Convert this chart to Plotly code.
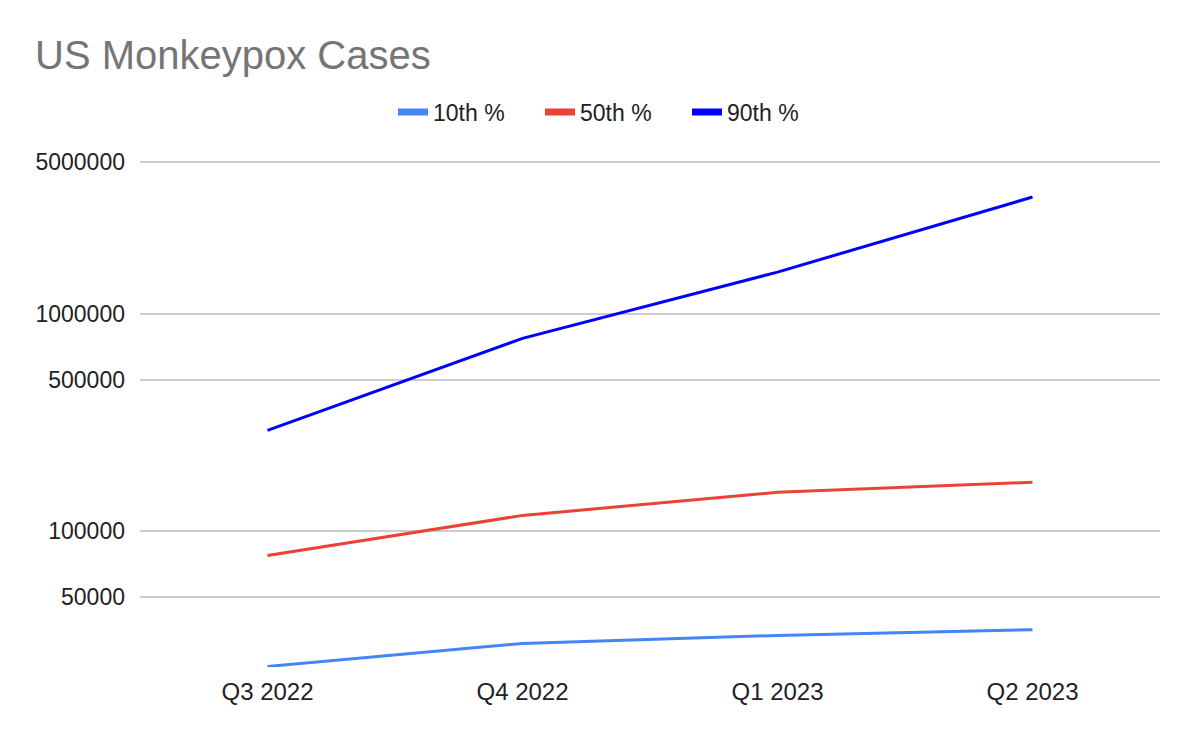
import plotly.graph_objects as go

quarters = ["Q3 2022", "Q4 2022", "Q1 2023", "Q2 2023"]
p10 = [23900, 30500, 33200, 35300]
p50 = [77400, 118500, 151300, 168300]
p90 = [292000, 774000, 1562000, 3460000]

y_ticks = [50000, 100000, 500000, 1000000, 5000000]
y_ticktext = ["50000", "100000", "500000", "1000000", "5000000"]

series = [
    ("10th %", p10, "#4285F4"),
    ("50th %", p50, "#EA4335"),
    ("90th %", p90, "#0000FF"),
]

# page body has an 8px margin, so the figure is a bit smaller than the window
W, H = 1185, 731

fig = go.Figure()

for name, vals, color in series:
    fig.add_trace(go.Scatter(
        x=quarters,
        y=vals,
        name=name,
        mode="lines",
        line=dict(color=color, width=3),
        showlegend=False,
        cliponaxis=False,
    ))

# legend-only entries with the thick swatch look
for name, vals, color in series:
    fig.add_trace(go.Scatter(
        x=[None],
        y=[None],
        name=name,
        mode="lines",
        line=dict(color=color, width=7),
        hoverinfo="skip",
    ))

fig.update_layout(
    width=W,
    height=H,
    autosize=False,
    paper_bgcolor="white",
    plot_bgcolor="white",
    font=dict(family="Liberation Sans, Arial, sans-serif", size=23, color="#222222"),
    title=dict(
        text="US Monkeypox Cases",
        font=dict(size=40, color="#757575"),
        xref="container", yref="container",
        x=27 / W, xanchor="left",
        y=1 - 47 / H, yanchor="middle",
    ),
    margin=dict(l=132, r=33, t=132, b=72),
    legend=dict(
        orientation="h",
        xref="container", yref="container",
        x=385 / W, xanchor="left",
        y=1 - 104 / H, yanchor="middle",
        font=dict(size=23),
        itemwidth=30,
        entrywidth=102,
        traceorder="normal",
    ),
    showlegend=True,
)

fig.update_xaxes(
    type="category",
    range=[-0.5, 3.5],
    showgrid=False,
    showline=False,
    zeroline=False,
    ticks="",
    ticklabelstandoff=8,
    tickfont=dict(size=24),
)

fig.update_yaxes(
    type="log",
    range=[4.3758, 6.7764],
    tickvals=y_ticks,
    ticktext=y_ticktext,
    showgrid=True,
    gridcolor="#cccccc",
    gridwidth=1.5,
    showline=False,
    zeroline=False,
    ticks="",
    ticklabelstandoff=14,
    tickfont=dict(size=23),
)

fig.write_html("out.html")
